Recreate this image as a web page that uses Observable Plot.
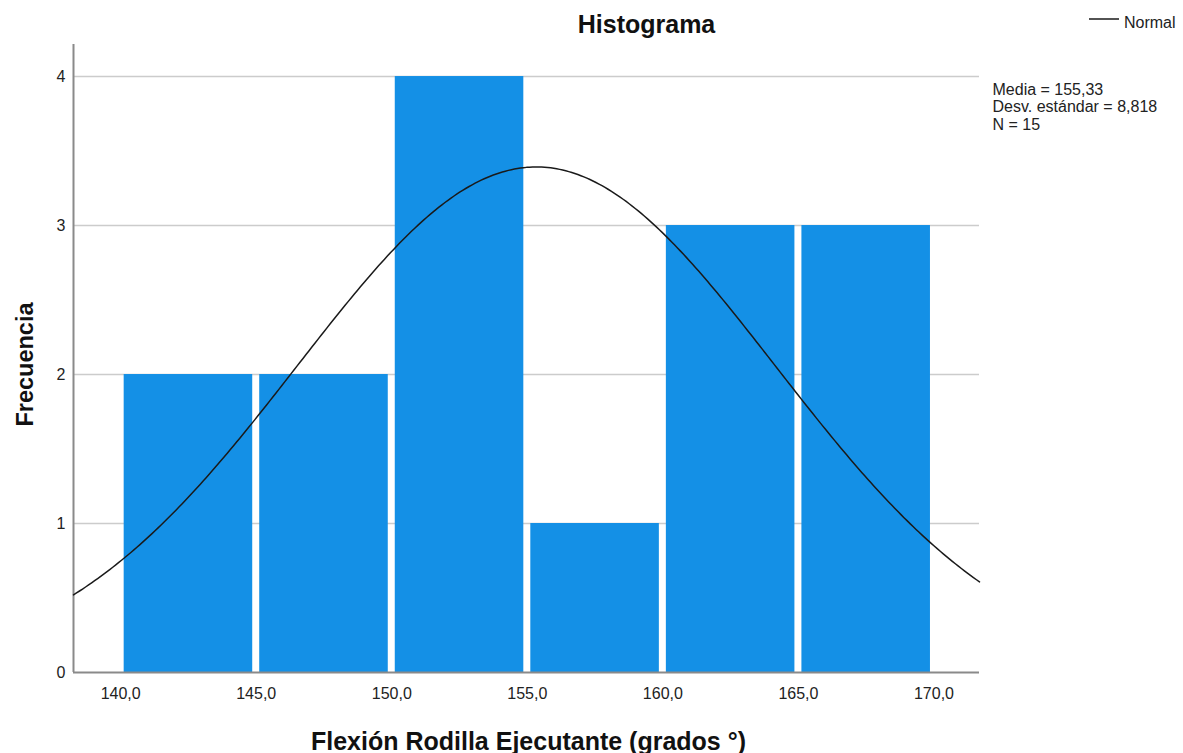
<!DOCTYPE html>
<html>
<head>
<meta charset="utf-8">
<script src="https://cdn.jsdelivr.net/npm/d3@7"></script>
<script src="https://cdn.jsdelivr.net/npm/@observablehq/plot@0.6"></script>
<style>
  html, body { margin: 0; padding: 0; background: #fff; }
  #chart svg { display: block; }
</style>
</head>
<body>
<div id="chart"></div>
<script>
// Frequency histogram of knee flexion (degrees), 5-degree bins
const binStarts = [140, 145, 150, 155, 160, 165];
const binWidth = 5;
const counts = [2, 2, 4, 1, 3, 3];

// Summary statistics shown beside the chart
const mean = 155.33;
const sd = 8.818;
const n = 15;

const xTicks = [140, 145, 150, 155, 160, 165, 170];
const yTicks = [0, 1, 2, 3, 4];
const xDomain = [138.26, 171.68];
const yDomain = [0, 4.215];

const titleText = "Histograma";
const xTitle = "Flexión Rodilla Ejecutante (grados °)";
const yTitle = "Frecuencia";
const legendLabel = "Normal";
const statsText = [
  "Media = " + mean.toFixed(2).replace(".", ","),
  "Desv. estándar = " + sd.toFixed(3).replace(".", ","),
  "N = " + n
].join("\n");

const bins = binStarts.map((x0, i) => ({x1: x0, x2: x0 + binWidth, count: counts[i]}));

// Normal curve scaled to counts: N * binWidth * pdf(x; mean, sd)
const steps = 300;
const curve = d3.range(steps + 1).map(i => {
  const x = xDomain[0] + (xDomain[1] - xDomain[0]) * i / steps;
  const z = (x - mean) / sd;
  return {x, y: n * binWidth * Math.exp(-0.5 * z * z) / (sd * Math.sqrt(2 * Math.PI))};
});

const fmtX = d => d.toFixed(1).replace(".", ",");

const chart = Plot.plot({
  width: 1183,
  height: 753,
  marginLeft: 73,
  marginRight: 204,
  marginTop: 44,
  marginBottom: 81,
  style: {
    fontFamily: "'Liberation Sans', Arial, sans-serif",
    fontSize: "16px",
    color: "#222",
    background: "#fff"
  },
  x: {domain: xDomain},
  y: {domain: yDomain},
  marks: [
    Plot.ruleY(yTicks.filter(d => d > 0), {stroke: "#cccccc", strokeWidth: 1.6}),
    Plot.rectY(bins, {x1: "x1", x2: "x2", y: "count", fill: "#1490e6", insetLeft: 3.5, insetRight: 3.5}),
    Plot.ruleX([xDomain[0]], {stroke: "#8a8a8a", strokeWidth: 2}),
    Plot.ruleY([0], {stroke: "#8a8a8a", strokeWidth: 2}),
    Plot.line(curve, {x: "x", y: "y", stroke: "#1a1a1a", strokeWidth: 1.5}),
    Plot.axisX({ticks: xTicks, tickFormat: fmtX, tickSize: 0, tickPadding: 15, label: null, fontSize: 16}),
    Plot.axisY({ticks: yTicks, tickFormat: d => String(d), tickSize: 0, tickPadding: 8, label: null, fontSize: 16}),
    Plot.text([titleText], {text: d => d, frameAnchor: "top", textAnchor: "middle", lineAnchor: "bottom", dx: 120, dy: -12, fontSize: 25, fontWeight: "bold", fill: "#111"}),
    Plot.text([xTitle], {text: d => d, frameAnchor: "bottom", textAnchor: "middle", lineAnchor: "bottom", dx: 2, dy: 77, fontSize: 25, fontWeight: "bold", fill: "#111"}),
    Plot.text([yTitle], {text: d => d, frameAnchor: "left", textAnchor: "middle", lineAnchor: "bottom", rotate: -90, dx: -41, dy: 6, fontSize: 23.5, fontWeight: "bold", fill: "#111"}),
    Plot.text([statsText], {text: d => d, frameAnchor: "top-right", textAnchor: "start", lineAnchor: "top", dx: 13, dy: 38, fontSize: 16, lineHeight: 1.09, fill: "#222"})
  ]
});

// Legend for the fitted normal curve, top right
const svg = d3.select(chart);
const lg = svg.append("g").attr("class", "legend");
lg.append("line")
  .attr("x1", 1089).attr("x2", 1119).attr("y1", 19).attr("y2", 19)
  .attr("stroke", "#1a1a1a").attr("stroke-width", 1.5);
lg.append("text")
  .attr("x", 1124).attr("y", 28)
  .attr("text-anchor", "start")
  .attr("font-size", 16).attr("fill", "#222")
  .text(legendLabel);

document.getElementById("chart").appendChild(chart);
</script>
</body>
</html>
